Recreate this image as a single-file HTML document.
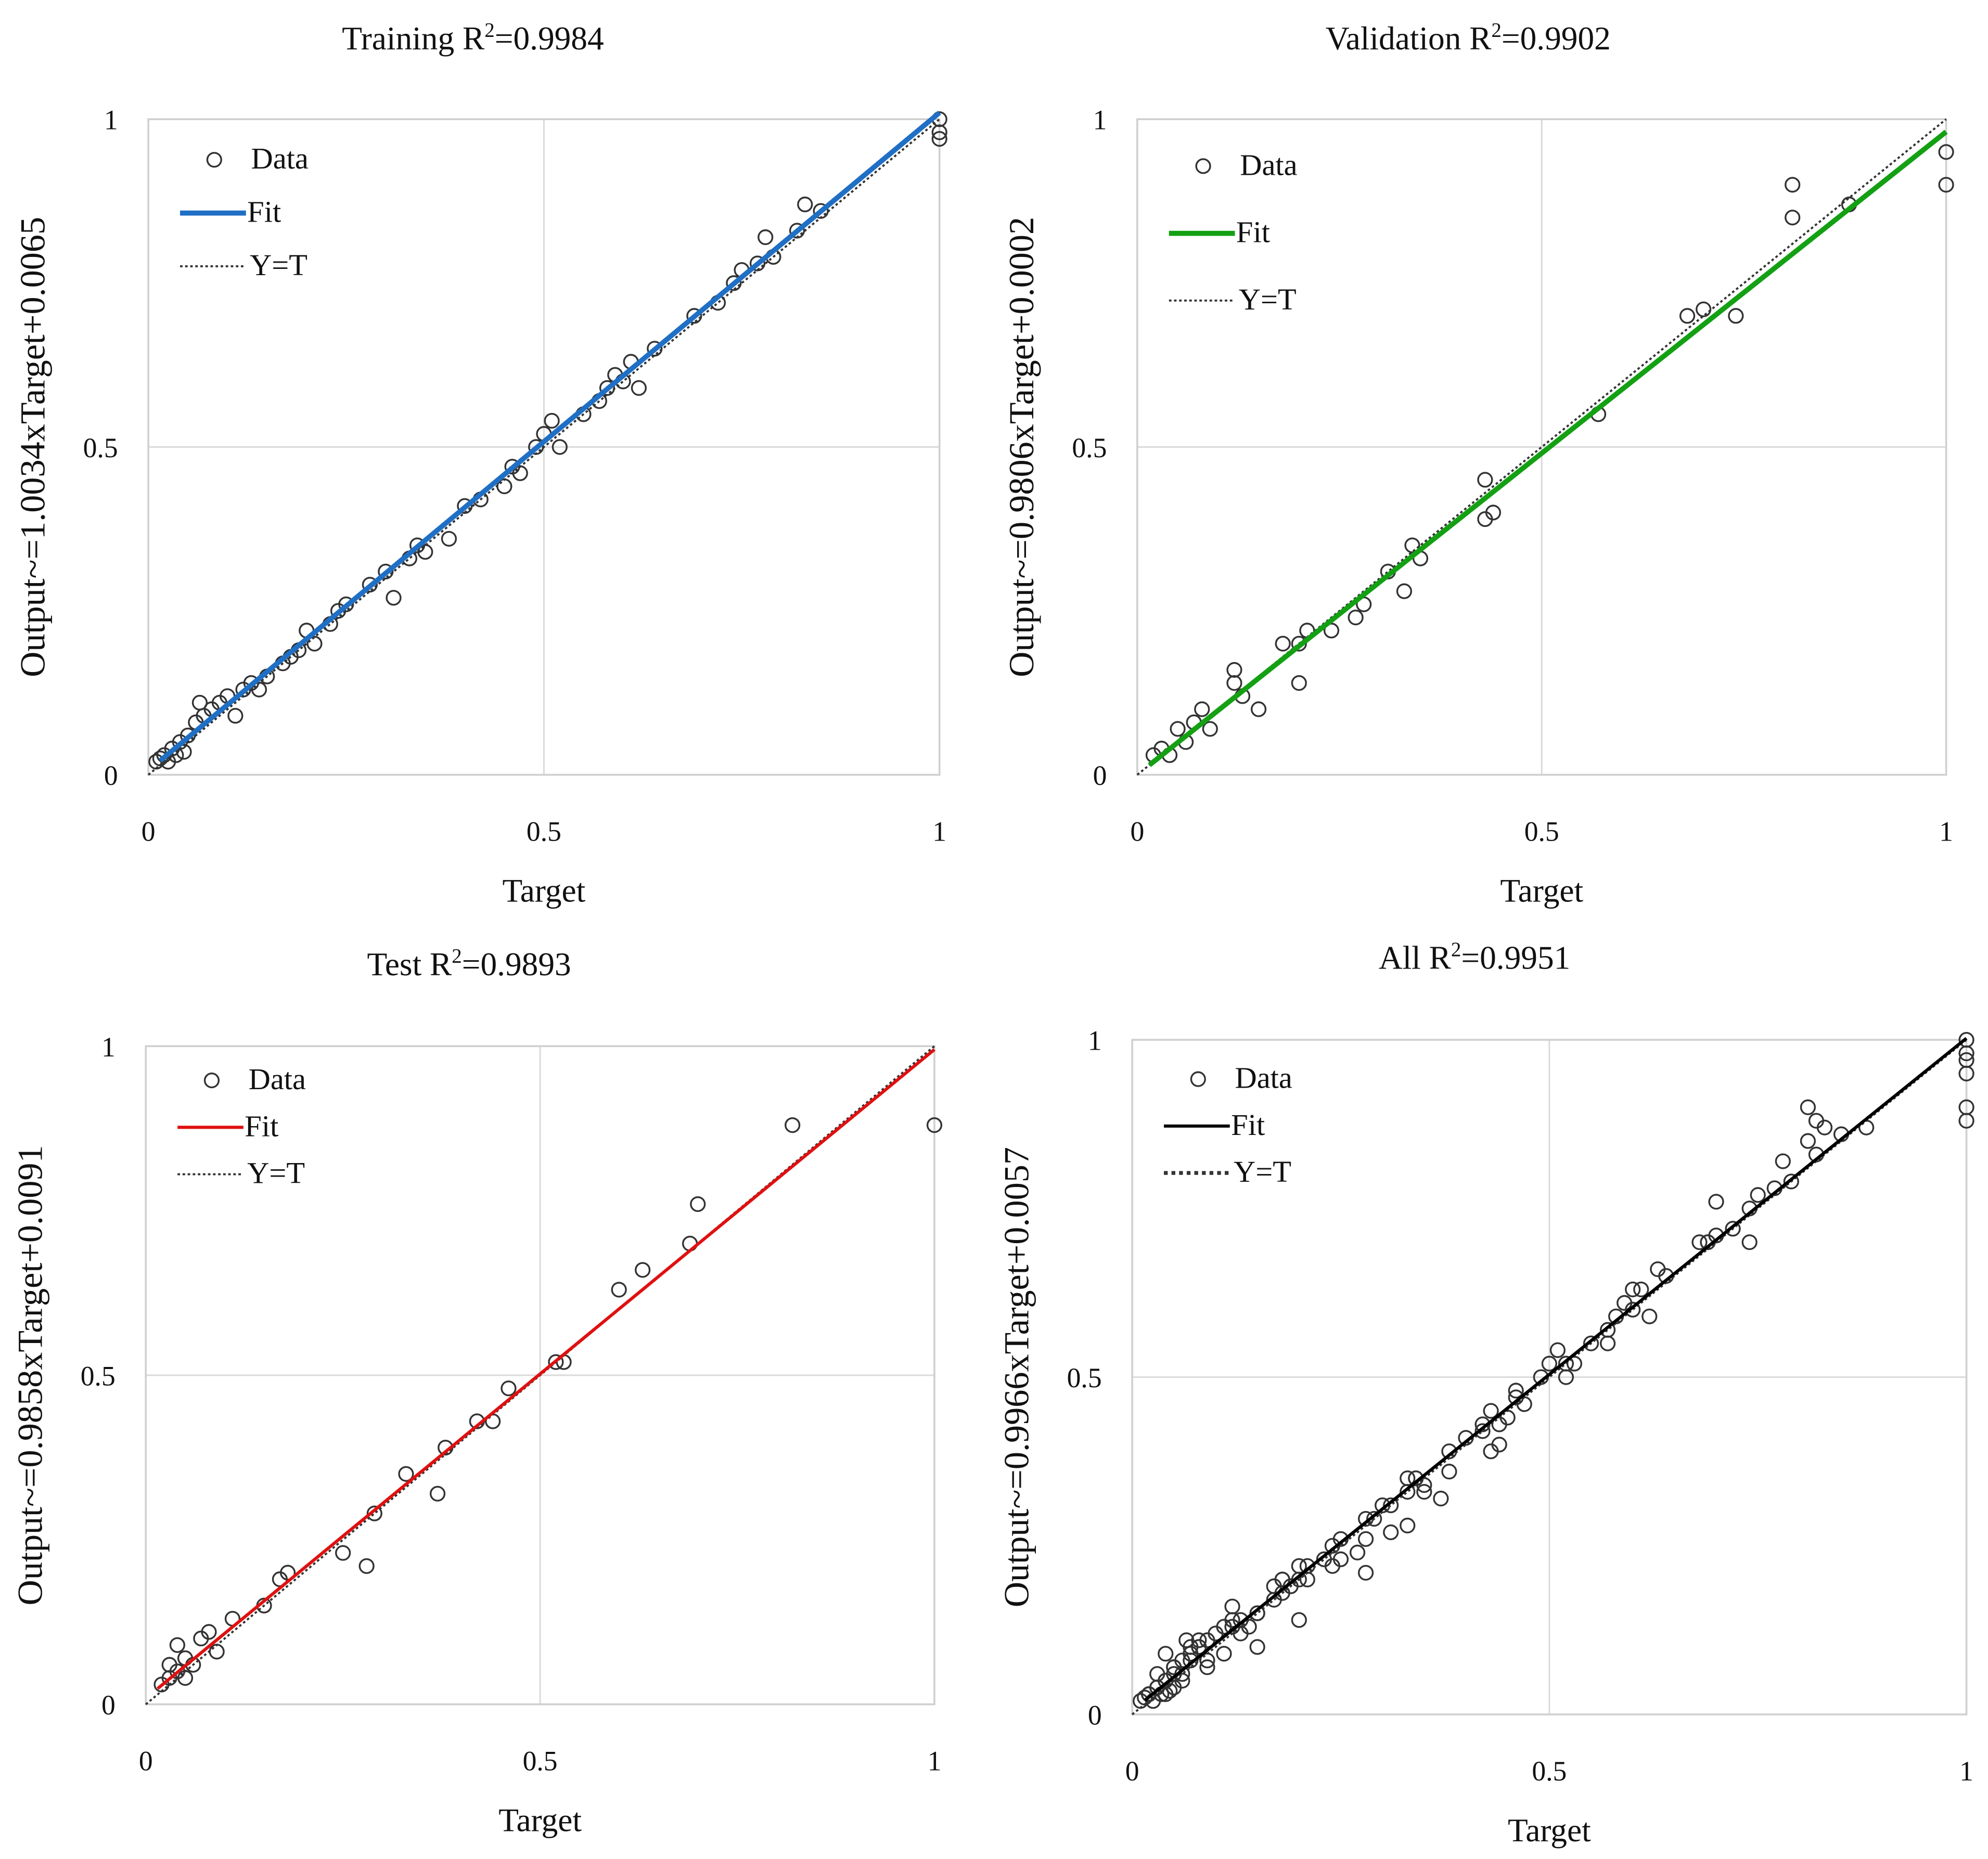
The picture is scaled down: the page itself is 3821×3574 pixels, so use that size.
<!DOCTYPE html>
<html><head><meta charset="utf-8"><style>
html,body{margin:0;padding:0;background:#fff;}
svg{display:block;}
text{font-family:"Liberation Serif",serif;fill:#111;}
</style></head><body>
<svg id="chart" width="3821" height="3574" viewBox="0 0 1568 1466" preserveAspectRatio="none" xmlns="http://www.w3.org/2000/svg"></svg>
<script>
const trainTargets=[0.01,0.015,0.02,0.025,0.03,0.035,0.04,0.045,0.05,0.06,0.065,0.07,0.08,0.09,0.10,0.11,0.12,0.13,0.14,0.15,0.17,0.18,0.19,0.20,0.21,0.23,0.24,0.25,0.28,0.30,0.31,0.33,0.34,0.35,0.38,0.40,0.42,0.45,0.46,0.47,0.49,0.50,0.51,0.52,0.55,0.57,0.58,0.59,0.60,0.61,0.62,0.64,0.69,0.72,0.74,0.75,0.77,0.78,0.79,0.82,0.83,0.85,1.0,1.0,1.0];
const trainOutputs=[0.02,0.025,0.03,0.02,0.04,0.03,0.05,0.035,0.06,0.08,0.11,0.09,0.10,0.11,0.12,0.09,0.13,0.14,0.13,0.15,0.17,0.18,0.19,0.22,0.20,0.23,0.25,0.26,0.29,0.31,0.27,0.33,0.35,0.34,0.36,0.41,0.42,0.44,0.47,0.46,0.50,0.52,0.54,0.50,0.55,0.57,0.59,0.61,0.60,0.63,0.59,0.65,0.70,0.72,0.75,0.77,0.78,0.82,0.79,0.83,0.87,0.86,1.0,0.98,0.97];
const valTargets=[0.02,0.03,0.04,0.05,0.06,0.07,0.08,0.09,0.12,0.12,0.13,0.15,0.18,0.20,0.21,0.20,0.24,0.27,0.28,0.31,0.33,0.35,0.34,0.43,0.43,0.44,0.57,0.68,0.70,0.74,0.81,0.81,0.88,1.0,1.0];
const valOutputs=[0.03,0.04,0.03,0.07,0.05,0.08,0.10,0.07,0.16,0.14,0.12,0.10,0.20,0.20,0.22,0.14,0.22,0.24,0.26,0.31,0.28,0.33,0.35,0.39,0.45,0.40,0.55,0.70,0.71,0.70,0.90,0.85,0.87,0.95,0.90];
const testTargets=[0.02,0.03,0.03,0.04,0.04,0.05,0.05,0.06,0.07,0.08,0.09,0.11,0.15,0.17,0.18,0.25,0.28,0.29,0.33,0.37,0.38,0.42,0.44,0.46,0.52,0.53,0.60,0.63,0.69,0.70,0.82,1.0];
const testOutputs=[0.03,0.04,0.06,0.09,0.05,0.07,0.04,0.06,0.10,0.11,0.08,0.13,0.15,0.19,0.20,0.23,0.21,0.29,0.35,0.32,0.39,0.43,0.43,0.48,0.52,0.52,0.63,0.66,0.70,0.76,0.88,0.88];
const panelTitles=["Training","Validation","Test","All"];
const r2Values=["0.9984","0.9902","0.9893","0.9951"];
const fitSlopes=[1.0034,0.9806,0.9858,0.9966];
const fitIntercepts=[0.0065,0.0002,0.0091,0.0057];
const tickValues=[0,0.5,1];
const tickLabels=["0","0.5","1"];

const NS="http://www.w3.org/2000/svg";
const svg=document.getElementById('chart');
function mk(tag,attrs,parent){const e=document.createElementNS(NS,tag);for(const k in attrs)e.setAttribute(k,attrs[k]);(parent||svg).appendChild(e);return e;}
const panels=[
 {x0:117,x1:741,y0:94,y1:611,color:"#1f6fc5",fw:4,tx:373,ty:39,lo:39,gap:42,xs:[trainTargets],ys:[trainOutputs]},
 {x0:897,x1:1535,y0:94,y1:611,color:"#13a013",fw:4,tx:1158,ty:39,lo:44,gap:53,xs:[valTargets],ys:[valOutputs]},
 {x0:115,x1:737,y0:825,y1:1344,color:"#e01010",fw:2.5,tx:370,ty:769,lo:34,gap:37,xs:[testTargets],ys:[testOutputs]},
 {x0:893,x1:1551,y0:820,y1:1352,color:"#000",fw:2.5,tx:1163,ty:764,lo:38,gap:37,xs:[trainTargets,valTargets,testTargets],ys:[trainOutputs,valOutputs,testOutputs]}
];
panels.forEach((p,i)=>{
 const g=mk('g',{});
 
 
 const sx=v=>p.x0+v*(p.x1-p.x0), sy=v=>p.y1-v*(p.y1-p.y0);
 tickValues.forEach((t,k)=>{
  const gl=mk('line',{x1:sx(t),x2:sx(t),y1:p.y0,y2:p.y1,stroke:"#d9d9d9","stroke-width":1.2},g);
  
  const hl=mk('line',{x1:p.x0,x2:p.x1,y1:sy(t),y2:sy(t),stroke:"#d9d9d9","stroke-width":1.2},g);
  
  const xt=mk('text',{x:sx(t),y:p.y1+52,"font-size":22,"text-anchor":"middle"},g);xt.textContent=tickLabels[k];
  
  const yt=mk('text',{x:p.x0-24,y:sy(t)+8,"font-size":22,"text-anchor":"end"},g);yt.textContent=tickLabels[k];
  
 });
 const ax=mk('rect',{x:p.x0,y:p.y0,width:p.x1-p.x0,height:p.y1-p.y0,fill:"none",stroke:"#d0d0d0","stroke-width":1.5},g);
 
 p.xs.forEach((arr,si)=>arr.forEach((v,j)=>{
  const c=mk('circle',{cx:sx(v),cy:sy(p.ys[si][j]),r:5.5,fill:"none",stroke:"#333","stroke-width":1.4},g);
  
 }));
 const yt=mk('line',{x1:sx(0),y1:sy(0),x2:sx(1),y2:sy(1),stroke:"#333","stroke-width":1.6,"stroke-dasharray":"2 2"},g);
 
 const a=fitSlopes[i],b=fitIntercepts[i];
 const t0=0.015;
 const fl=mk('line',{x1:sx(t0),y1:sy(a*t0+b),x2:sx(1),y2:sy(a+b),stroke:p.color,"stroke-width":p.fw},g);
 
 const tt=mk('text',{x:p.tx,y:p.ty,"font-size":26,"text-anchor":"middle"},g);
 
 tt.innerHTML=panelTitles[i]+' R<tspan dy="-10" font-size="16">2</tspan><tspan dy="10">='+r2Values[i]+'</tspan>';
 const xl=mk('text',{x:(p.x0+p.x1)/2,y:p.y1+100,"font-size":26,"text-anchor":"middle"},g);xl.textContent="Target";
 
 const cy=(p.y0+p.y1)/2;
 const yl=mk('text',{x:p.x0-82,y:cy,"font-size":28,"text-anchor":"middle",transform:`rotate(-90 ${p.x0-82} ${cy})`},g);
 yl.textContent="Output~="+a.toFixed(4)+"xTarget+"+b.toFixed(4);
 
 const lx=p.x0+25, ly=p.y0+p.lo, gap=p.gap;
 const lm=mk('circle',{cx:lx+27,cy:ly-7,r:5.5,fill:"none",stroke:"#333","stroke-width":1.4},g);
 
 const l1=mk('text',{x:lx+56,y:ly,"font-size":24},g);l1.textContent="Data";
 
 const ll=mk('line',{x1:lx,x2:lx+52,y1:ly+gap-7,y2:ly+gap-7,stroke:p.color,"stroke-width":p.fw},g);
 
 const l2=mk('text',{x:lx+53,y:ly+gap,"font-size":24},g);l2.textContent="Fit";
 
 const ld=mk('line',{x1:lx,x2:lx+52,y1:ly+2*gap-7,y2:ly+2*gap-7,stroke:"#333","stroke-width":i===3?3:1.6,"stroke-dasharray":i===3?"3 3":"2 2"},g);
 
 const l3=mk('text',{x:lx+55,y:ly+2*gap,"font-size":24},g);l3.textContent="Y=T";
 
});
</script>
</body></html>
